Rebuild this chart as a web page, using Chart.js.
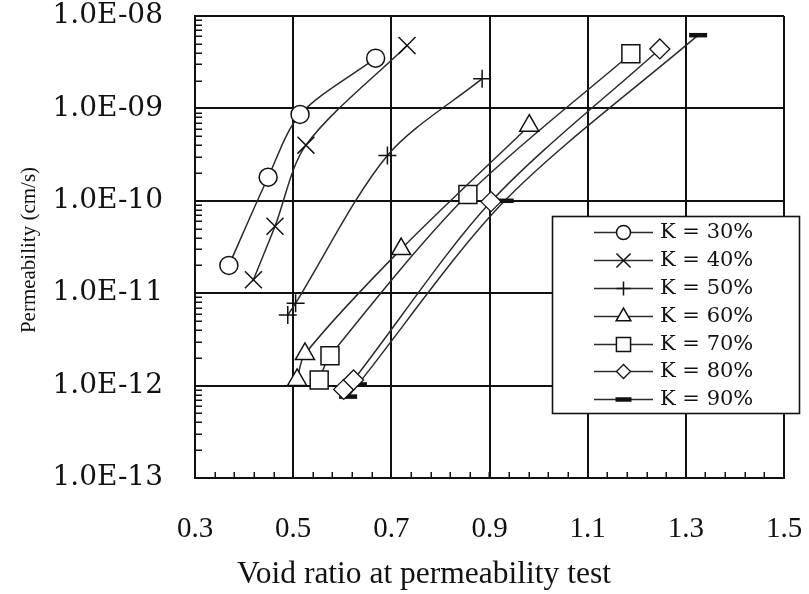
<!DOCTYPE html>
<html>
<head>
<meta charset="utf-8">
<title>Permeability vs void ratio</title>
<script src="https://cdn.jsdelivr.net/npm/chart.js@4.4.1/dist/chart.umd.min.js"></script>
<style>
  html, body { margin: 0; padding: 0; background: #fff; }
  canvas { display: block; }
</style>
</head>
<body>
<canvas id="chart" width="809" height="594"></canvas>
<script>
// Series labels (K = degree of compaction)
const seriesNames = ['K = 30%', 'K = 40%', 'K = 50%', 'K = 60%', 'K = 70%', 'K = 80%', 'K = 90%'];

// Void ratio at permeability test (x) and permeability in cm/s (y) for each series
const voidK30 = [0.369, 0.449, 0.514, 0.668];
const permK30 = [2.0e-11, 1.8e-10, 8.6e-10, 3.5e-9];

const voidK40 = [0.419, 0.463, 0.526, 0.732];
const permK40 = [1.4e-11, 5.3e-11, 4.0e-10, 4.8e-9];

const voidK50 = [0.489, 0.505, 0.692, 0.885];
const permK50 = [5.8e-12, 7.8e-12, 3.1e-10, 2.1e-9];

const voidK60 = [0.508, 0.524, 0.720, 0.981];
const permK60 = [1.15e-12, 2.2e-12, 3.0e-11, 6.5e-10];

const voidK70 = [0.553, 0.575, 0.856, 1.188];
const permK70 = [1.15e-12, 2.1e-12, 1.17e-10, 3.9e-9];

const voidK80 = [0.603, 0.623, 0.903, 1.247];
const permK80 = [9.1e-13, 1.15e-12, 9.8e-11, 4.4e-9];

const voidK90 = [0.612, 0.632, 0.931, 1.325];
const permK90 = [7.6e-13, 1.03e-12, 1.0e-10, 6.2e-9];

// Axis ticks
const xTickValues = [0.3, 0.5, 0.7, 0.9, 1.1, 1.3, 1.5];
const xTickLabels = ['0.3', '0.5', '0.7', '0.9', '1.1', '1.3', '1.5'];
const yTickValues = [1e-13, 1e-12, 1e-11, 1e-10, 1e-9, 1e-8];
const yTickLabels = ['1.0E-13', '1.0E-12', '1.0E-11', '1.0E-10', '1.0E-09', '1.0E-08'];

const xTitle = 'Void ratio at permeability test';
const yTitle = 'Permeability (cm/s)';

const toPoints = (xs, ys) => xs.map((x, i) => ({ x: x, y: ys[i] }));

const seriesData = [
  toPoints(voidK30, permK30),
  toPoints(voidK40, permK40),
  toPoints(voidK50, permK50),
  toPoints(voidK60, permK60),
  toPoints(voidK70, permK70),
  toPoints(voidK80, permK80),
  toPoints(voidK90, permK90)
];

// Marker look: plot size and (smaller) legend size
const markerStyles = [
  { style: 'circle',   r: 9,    lr: 7,   bw: 1.5 },
  { style: 'crossRot', r: 12,   lr: 10,  bw: 1.5 },
  { style: 'cross',    r: 9,    lr: 7,   bw: 1.5 },
  { style: 'triangle', r: 11,   lr: 8.5, bw: 1.5 },
  { style: 'rect',     r: 12.7, lr: 10,  bw: 1.5 },
  { style: 'rectRot',  r: 10,   lr: 7,   bw: 1.3 },
  { style: 'line',     r: 9,    lr: 8,   bw: 4.5 }
];

const lineColor = '#2b2b2b';

const datasets = seriesData.map((pts, i) => ({
  label: seriesNames[i],
  data: pts,
  showLine: true,
  borderColor: lineColor,
  borderWidth: 1.5,
  tension: 0.3,
  pointStyle: markerStyles[i].style,
  pointRadius: markerStyles[i].r,
  pointBorderWidth: markerStyles[i].bw,
  pointBorderColor: '#111',
  pointBackgroundColor: '#fff',
  pointHoverRadius: markerStyles[i].r
}));

// Minor tick marks drawn inside the plot frame (log minors on y, 0.04 steps on x)
const minorTicks = {
  id: 'minorTicks',
  afterDatasetsDraw(chart) {
    const { ctx, chartArea: a, scales } = chart;
    const xs = scales.x, ys = scales.y;
    ctx.save();
    ctx.strokeStyle = '#111';
    ctx.lineWidth = 1.5;
    ctx.beginPath();
    for (let d = -13; d < -8; d++) {
      for (let m = 2; m <= 9; m++) {
        const py = Math.round(ys.getPixelForValue(m * Math.pow(10, d))) + 0.25;
        ctx.moveTo(a.left, py);
        ctx.lineTo(a.left + 7, py);
      }
    }
    for (let k = 1; k < 30; k++) {
      const v = xTickValues[0] + k * 0.04;
      const px = Math.round(xs.getPixelForValue(v)) + 0.25;
      ctx.moveTo(px, a.bottom);
      ctx.lineTo(px, a.bottom - 6);
    }
    ctx.stroke();
    ctx.restore();
  }
};

// Axis titles
const axisTitles = {
  id: 'axisTitles',
  afterDraw(chart) {
    const { ctx } = chart;
    ctx.save();
    ctx.fillStyle = '#111';
    ctx.font = '31.5px "Liberation Serif", "Times New Roman", serif';
    ctx.textAlign = 'center';
    ctx.textBaseline = 'alphabetic';
    ctx.fillText(xTitle, 424, 583);
    ctx.translate(35, 250);
    ctx.rotate(-Math.PI / 2);
    ctx.font = '21px "Liberation Serif", "Times New Roman", serif';
    ctx.fillText(yTitle, 0, 0);
    ctx.restore();
  }
};

// Boxed legend in the lower right, overlapping the frame
const boxLegend = {
  id: 'boxLegend',
  afterDraw(chart) {
    const { ctx } = chart;
    const box = { x: 552.5, y: 216.5, w: 247, h: 197 };
    ctx.save();
    ctx.fillStyle = '#fff';
    ctx.fillRect(box.x, box.y, box.w, box.h);
    ctx.strokeStyle = '#111';
    ctx.lineWidth = 1.6;
    ctx.strokeRect(box.x, box.y, box.w, box.h);
    const rowTop = 232.3, rowGap = 27.8;
    chart.data.datasets.forEach((ds, i) => {
      const y = Math.round(rowTop + i * rowGap) + 0.5;
      ctx.strokeStyle = lineColor;
      ctx.lineWidth = 1.5;
      ctx.beginPath();
      ctx.moveTo(594, y);
      ctx.lineTo(653, y);
      ctx.stroke();
      const ms = markerStyles[i];
      ctx.fillStyle = '#fff';
      ctx.strokeStyle = '#111';
      ctx.lineWidth = ms.bw;
      Chart.helpers.drawPoint(ctx, { pointStyle: ms.style, radius: ms.lr, borderWidth: ms.bw, rotation: 0 }, 623.5, y);
      ctx.fillStyle = '#111';
      ctx.font = '21px "DejaVu Serif", serif';
      ctx.textAlign = 'left';
      ctx.textBaseline = 'middle';
      ctx.fillText(ds.label, 660, y);
    });
    ctx.restore();
  }
};

new Chart(document.getElementById('chart'), {
  type: 'scatter',
  data: { datasets: datasets },
  options: {
    responsive: false,
    animation: false,
    devicePixelRatio: 1,
    layout: { padding: { top: 16, right: 25, left: 0, bottom: 0 } },
    plugins: {
      legend: { display: false },
      tooltip: { enabled: false }
    },
    scales: {
      x: {
        type: 'linear',
        min: 0.3,
        max: 1.5,
        afterBuildTicks(scale) { scale.ticks = xTickValues.map(v => ({ value: v })); },
        afterFit(scale) {
          scale.height = 116;
          scale.paddingLeft = 0;
          scale.paddingRight = 0;
        },
        grid: { color: '#111', lineWidth: 2, drawTicks: false },
        border: { color: '#111', width: 2 },
        ticks: {
          padding: 34,
          color: '#111',
          font: { family: '"Liberation Serif", "Times New Roman", serif', size: 29 },
          callback(v) { const k = xTickValues.indexOf(v); return k >= 0 ? xTickLabels[k] : ''; }
        }
      },
      y: {
        type: 'logarithmic',
        min: 1e-13,
        max: 1e-8,
        afterBuildTicks(scale) { scale.ticks = yTickValues.map(v => ({ value: v })); },
        afterFit(scale) {
          scale.width = 195;
          scale.paddingTop = 0;
          scale.paddingBottom = 0;
        },
        grid: { color: '#111', lineWidth: 2, drawTicks: false },
        border: { color: '#111', width: 2 },
        ticks: {
          padding: 32,
          color: '#111',
          font: { family: '"DejaVu Serif", serif', size: 28 },
          callback(v) {
            const k = yTickValues.findIndex(t => Math.abs(Math.log10(t) - Math.log10(v)) < 1e-6);
            return k >= 0 ? yTickLabels[k] : '';
          }
        }
      }
    }
  },
  plugins: [minorTicks, axisTitles, boxLegend]
});
</script>
</body>
</html>
